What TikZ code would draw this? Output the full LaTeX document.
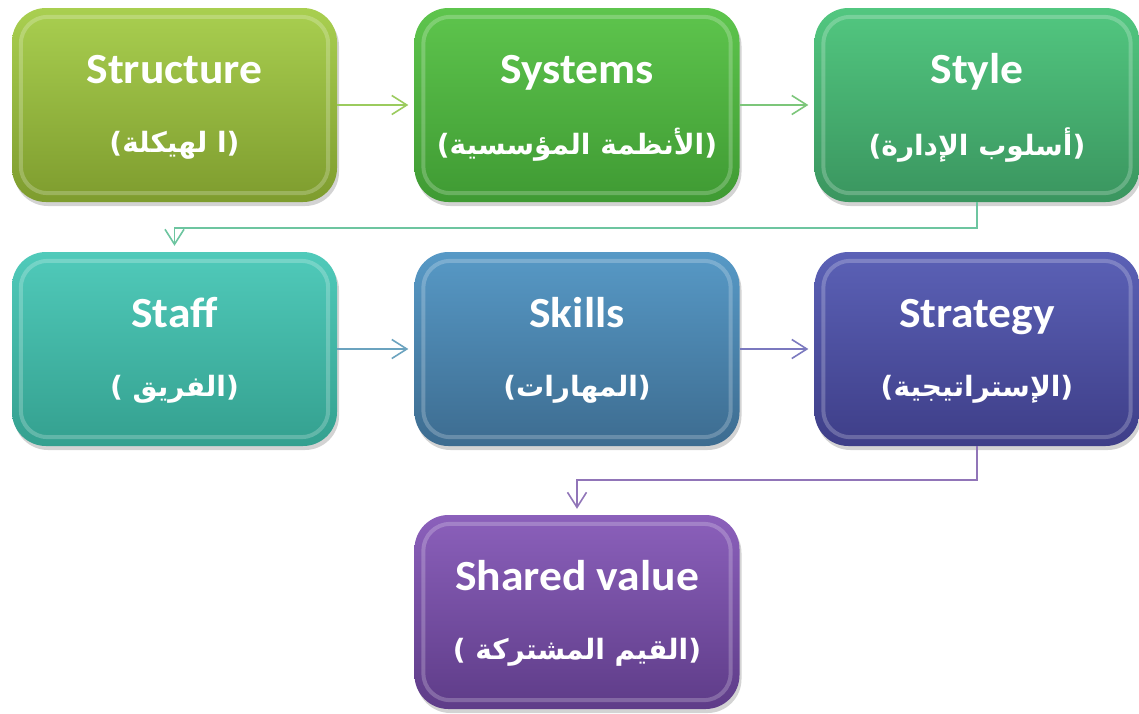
\documentclass[tikz,border=0pt]{standalone}
\usepackage{fontspec}
\setmainfont{Carlito}
\newfontfamily\arabicfont[Script=Arabic]{DejaVu Sans}
\TeXXeTstate=1
\usetikzlibrary{arrows.meta,shadows,calc}
\definecolor{c1t}{HTML}{A9CF50}\definecolor{c1b}{HTML}{7E9C2E}
\definecolor{c2t}{HTML}{5EC54D}\definecolor{c2b}{HTML}{3F9A33}
\definecolor{c3t}{HTML}{52C780}\definecolor{c3b}{HTML}{3A955F}
\definecolor{c4t}{HTML}{50CABA}\definecolor{c4b}{HTML}{34A08F}
\definecolor{c5t}{HTML}{5799C6}\definecolor{c5b}{HTML}{3D6C90}
\definecolor{c6t}{HTML}{5B61B6}\definecolor{c6b}{HTML}{3E3E88}
\definecolor{c7t}{HTML}{8B60BB}\definecolor{c7b}{HTML}{5E3C88}
\definecolor{a1}{HTML}{9BCB5E}\definecolor{a2}{HTML}{7CC67A}
\definecolor{a3}{HTML}{6DC5A0}\definecolor{a4}{HTML}{6BA3BF}
\definecolor{a5}{HTML}{7B79BF}\definecolor{a6}{HTML}{9175B8}
\tikzset{
  box/.style={rounded corners=34pt, minimum width=325pt, minimum height=194pt,
    inner sep=0pt, drop shadow={shadow xshift=2pt, shadow yshift=-4pt, opacity=0.35}},
  gloss/.style={draw=white, draw opacity=0.22, line width=4pt, rounded corners=27pt},
  latin/.style={text=white, font=\fontsize{43}{47}\selectfont\bfseries, inner sep=0pt, anchor=base},
  arab/.style={text=white, font=\arabicfont\fontsize{28}{32}\selectfont\bfseries, inner sep=0pt},
  conn/.style={line width=1.6pt, -{Straight Barb[length=15pt,width=19pt,line width=1.6pt]}, shorten >=6pt}
}
\newcommand\mybox[7]{%
  \node[box, top color=#4, bottom color=#5] (#1) at (#2,#3) {};
  \draw[gloss] ($(#1.north west)+(9,9)$) rectangle ($(#1.south east)+(-9,-9)$);
  \node[latin] (#1-l) at ($(#1.center)+(0,-22)$) {\scalebox{1.06}[1]{#6}};
  \node[arab] (#1-a) at ($(#1.center)+(0,40)$) {#7};
}
\begin{document}
\begin{tikzpicture}[x=1pt,y=-1pt]
\useasboundingbox (0,0) rectangle (1139,713);
\mybox{structure}{174.5}{105}{c1t}{c1b}{Structure}{\beginR(ا لهيكلة)\endR}
\mybox{systems}{577}{105}{c2t}{c2b}{Systems}{\beginR(الأنظمة المؤسسية)\endR}
\mybox{style}{977}{105}{c3t}{c3b}{Style}{\beginR(أسلوب الإدارة)\endR}
\mybox{staff}{174.5}{349}{c4t}{c4b}{Staff}{\beginR(الفريق )\endR}
\mybox{skills}{577}{349}{c5t}{c5b}{Skills}{\beginR(المهارات)\endR}
\mybox{strategy}{977}{349}{c6t}{c6b}{Strategy}{\beginR(الإستراتيجية)\endR}
\mybox{shared}{577}{612}{c7t}{c7b}{Shared value}{\beginR(القيم المشتركة )\endR}
\draw[conn, a1] (structure.east) -- (systems.west);
\draw[conn, a2] (systems.east) -- (style.west);
\draw[conn, a3] (style.south) -- ++(0,26) -| (staff.north);
\draw[conn, a4] (staff.east) -- (skills.west);
\draw[conn, a5] (skills.east) -- (strategy.west);
\draw[conn, a6] (strategy.south) -- ++(0,34) -| (shared.north);
\end{tikzpicture}
\end{document}
